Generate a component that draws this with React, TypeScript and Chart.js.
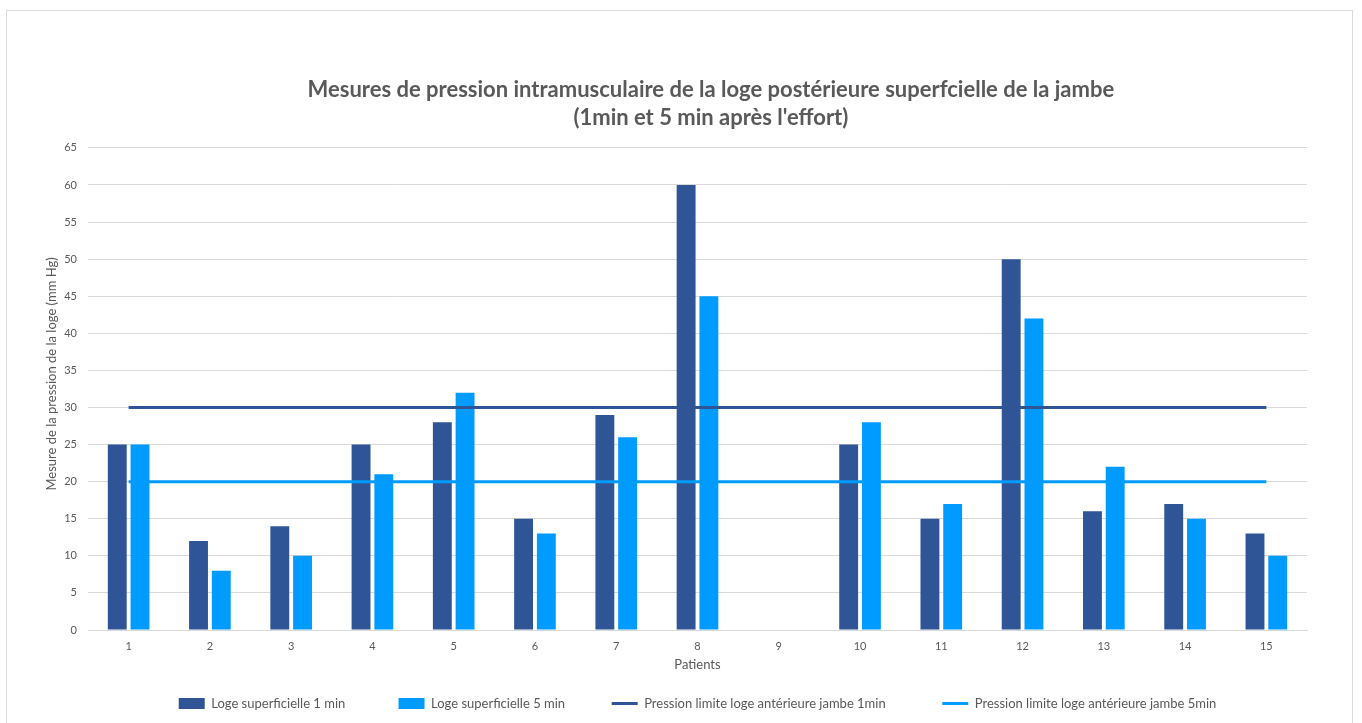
import React, { useEffect, useRef } from "react";
import { Chart, registerables } from "chart.js";

Chart.register(...registerables);

const categories = ["1", "2", "3", "4", "5", "6", "7", "8", "9", "10", "11", "12", "13", "14", "15"];
const loge1min = [25, 12, 14, 25, 28, 15, 29, 60, null, 25, 15, 50, 16, 17, 13];
const loge5min = [25, 8, 10, 21, 32, 13, 26, 45, null, 28, 17, 42, 22, 15, 10];
const limit1min = [30, 30, 30, 30, 30, 30, 30, 30, 30, 30, 30, 30, 30, 30, 30];
const limit5min = [20, 20, 20, 20, 20, 20, 20, 20, 20, 20, 20, 20, 20, 20, 20];
const seriesNames = [
  "Loge superficielle 1 min",
  "Loge superficielle 5 min",
  "Pression limite loge antérieure jambe 1min",
  "Pression limite loge antérieure jambe 5min",
];
const titleLines = [
  "Mesures de pression intramusculaire de la loge postérieure superfcielle de la jambe",
  "(1min et 5 min après l'effort)",
];
const yTitle = "Mesure de la pression de la loge (mm Hg)";
const xTitle = "Patients";

const DARK = "#2F5597";
const LIGHT = "#009BFF";
const TEXT = "#595959";
const GRID = "#D9D9D9";
const FONT = "Lato";
const legendGaps = [13, 11, 14, 0];

export default function App() {
  const ref = useRef<HTMLCanvasElement | null>(null);
  useEffect(() => {
    if (!ref.current) return;
    const chart = new Chart(ref.current, {
      type: "bar",
      data: {
        labels: categories,
        datasets: [
          { type: "bar", label: seriesNames[0], data: loge1min, backgroundColor: DARK, borderWidth: 0, order: 2, categoryPercentage: 0.56, barPercentage: 0.83 },
          { type: "bar", label: seriesNames[1], data: loge5min, backgroundColor: LIGHT, borderWidth: 0, order: 2, categoryPercentage: 0.56, barPercentage: 0.83 },
          { type: "line", label: seriesNames[2], data: limit1min, borderColor: DARK, backgroundColor: DARK, borderWidth: 3, pointRadius: 0, order: 1 },
          { type: "line", label: seriesNames[3], data: limit5min, borderColor: LIGHT, backgroundColor: LIGHT, borderWidth: 3, pointRadius: 0, order: 0 },
        ] as any,
      },
      options: {
        responsive: false,
        animation: false,
        layout: { padding: { left: 0, right: 55, top: 0, bottom: 3 } },
        plugins: {
          tooltip: { enabled: false },
          title: {
            display: true,
            fullSize: false,
            text: titleLines.map((t) => "     " + t),
            color: TEXT,
            font: { family: FONT, size: 22, weight: "bold", lineHeight: 1.27 },
            padding: { top: 76, bottom: 16 },
          },
          legend: {
            position: "bottom",
            fullSize: false,
            labels: {
              color: TEXT,
              font: { family: FONT, size: 13 },
              usePointStyle: true,
              pointStyleWidth: 26,
              boxHeight: 11,
              padding: 10,
              sort: (a: any, b: any) => a.datasetIndex - b.datasetIndex,
              generateLabels: (c: any) => {
                const items = Chart.defaults.plugins.legend.labels.generateLabels(c);
                return items.map((it: any) => {
                  const i = it.datasetIndex;
                  const isLine = i >= 2;
                  return {
                    ...it,
                    text: it.text + " ".repeat(legendGaps[i]),
                    pointStyle: isLine ? "line" : "rect",
                    lineWidth: isLine ? 3 : 0,
                    strokeStyle: isLine ? (i === 2 ? DARK : LIGHT) : it.strokeStyle,
                  };
                });
              },
            },
          },
        },
        scales: {
          x: {
            grid: { display: false, drawTicks: false },
            border: { color: GRID },
            ticks: { color: TEXT, font: { family: FONT, size: 11 }, padding: 10 },
            title: { display: true, text: xTitle, color: TEXT, font: { family: FONT, size: 13 }, padding: { top: 0, bottom: 14 } },
            afterFit: (s: any) => { s.height = 57; },
          },
          y: {
            min: 0,
            max: 65,
            ticks: { stepSize: 5, color: TEXT, font: { family: FONT, size: 11 }, padding: 11 },
            grid: { color: GRID, drawTicks: false },
            border: { display: false },
            title: { display: true, text: "         " + yTitle, color: TEXT, font: { family: FONT, size: 13 }, padding: { top: 44, bottom: 0 } },
            afterFit: (s: any) => { s.width = 88; },
          },
        },
      } as any,
    });
    return () => chart.destroy();
  }, []);
  return (
    <div style={{ position: "fixed", left: 0, top: 0, width: 1362, height: 723, overflow: "hidden", background: "#fff" }}>
      <div style={{ position: "absolute", left: 6, top: 10, width: 1345, height: 730, border: "1px solid #D9D9D9" }} />
      <canvas ref={ref} width={1362} height={723} style={{ position: "absolute", left: 0, top: 0 }} />
    </div>
  );
}
